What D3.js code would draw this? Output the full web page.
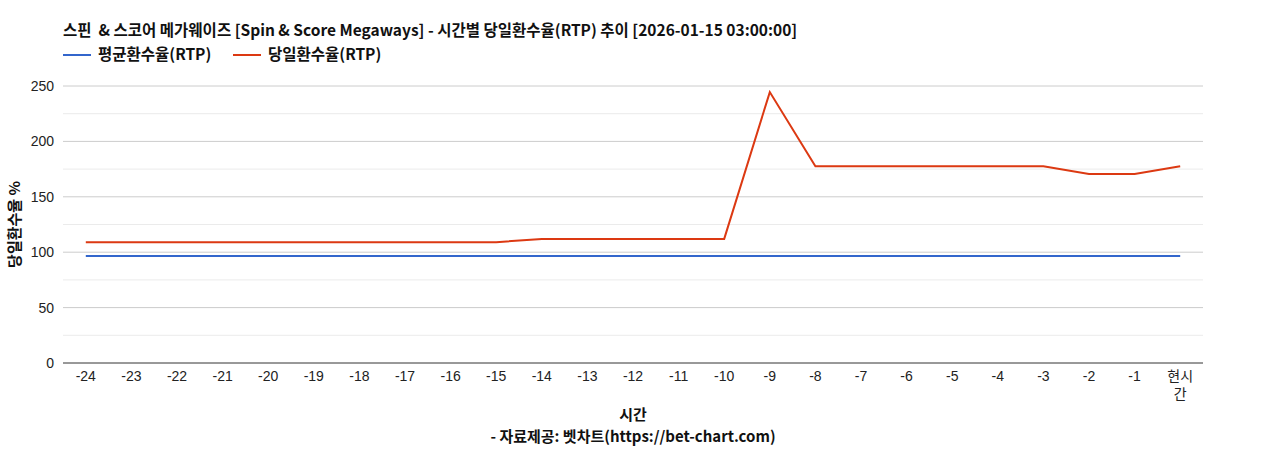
<!DOCTYPE html>
<html><head><meta charset="utf-8">
<script src="https://cdn.jsdelivr.net/npm/d3@7"></script>
<style>body{margin:0;background:#fff;font-family:"Noto Sans CJK KR","Noto Sans",sans-serif;} text{white-space:pre;}</style>
</head><body><svg id="c" width="1268" height="450"></svg>
<script>
var hours = ["-24","-23","-22","-21","-20","-19","-18","-17","-16","-15","-14","-13","-12","-11","-10","-9","-8","-7","-6","-5","-4","-3","-2","-1","현시간"];
var avgRtp = [96.6,96.6,96.6,96.6,96.6,96.6,96.6,96.6,96.6,96.6,96.6,96.6,96.6,96.6,96.6,96.6,96.6,96.6,96.6,96.6,96.6,96.6,96.6,96.6,96.6];
var dayRtp = [109,109,109,109,109,109,109,109,109,109,112,112,112,112,112,244.5,177.5,177.5,177.5,177.5,177.5,177.5,170.5,170.5,177.5];
var yTicks = [0,50,100,150,200,250];
var minorTicks = [25,75,125,175,225];

var svg = d3.select("#c");
var L = 63, R = 1203, T = 86, B = 363;
var tickFont = "'Liberation Sans','Noto Sans CJK KR',sans-serif";
var x = d3.scalePoint().domain(hours).range([L, R]).padding(0.5);
var y = d3.scaleLinear().domain([0, 250]).range([B, T]);

svg.append("g").selectAll("line").data(minorTicks).enter().append("line")
  .attr("x1", L).attr("x2", R).attr("y1", d => y(d)).attr("y2", d => y(d))
  .attr("stroke", "#ebebeb");
svg.append("g").selectAll("line").data(yTicks.slice(1)).enter().append("line")
  .attr("x1", L).attr("x2", R).attr("y1", d => y(d)).attr("y2", d => y(d))
  .attr("stroke", "#cccccc");
svg.append("line").attr("x1", L).attr("x2", R).attr("y1", B).attr("y2", B).attr("stroke", "#333");

svg.append("g").selectAll("text").data(yTicks).enter().append("text")
  .attr("x", L - 9).attr("y", d => y(d) + 5).attr("text-anchor", "end")
  .attr("font-family", tickFont).attr("font-size", 14).attr("fill", "#222").text(d => d);

var xl = svg.append("g").selectAll("text").data(hours).enter().append("text")
  .attr("x", d => x(d)).attr("y", 381).attr("text-anchor", "middle")
  .attr("font-family", tickFont).attr("font-size", 14).attr("fill", "#222");
xl.each(function(d){
  var t = d3.select(this);
  if (d === "현시간") {
    t.append("tspan").attr("x", x(d)).attr("dy", 0).text("현시");
    t.append("tspan").attr("x", x(d)).attr("dy", 18).text("간");
  } else t.text(d);
});

var line = d3.line().x((d, i) => x(hours[i])).y(d => y(d));
svg.append("path").datum(avgRtp).attr("d", line).attr("fill", "none").attr("stroke", "#3366cc").attr("stroke-width", 2);
svg.append("path").datum(dayRtp).attr("d", line).attr("fill", "none").attr("stroke", "#dc3912").attr("stroke-width", 2);

svg.append("text").attr("x", 63).attr("y", 36).attr("font-size", 15.5).attr("font-weight", "bold").attr("fill", "#111")
  .text("스핀  & 스코어 메가웨이즈 [Spin & Score Megaways] - 시간별 당일환수율(RTP) 추이 [2026-01-15 03:00:00]");
var leg = [["평균환수율(RTP)", "#3366cc", 63], ["당일환수율(RTP)", "#dc3912", 233]];
leg.forEach(function(l){
  svg.append("line").attr("x1", l[2]).attr("x2", l[2] + 28).attr("y1", 55).attr("y2", 55).attr("stroke", l[1]).attr("stroke-width", 2);
  svg.append("text").attr("x", l[2] + 35).attr("y", 60).attr("font-size", 15.5).attr("font-weight", "bold").attr("fill", "#111").text(l[0]);
});

svg.append("text").attr("transform", "translate(20," + ((T + B) / 2) + ") rotate(-90)")
  .attr("text-anchor", "middle").attr("font-size", 15).attr("font-weight", "bold").attr("fill", "#111").text("당일환수율 %");
svg.append("text").attr("x", (L + R) / 2).attr("y", 420).attr("text-anchor", "middle")
  .attr("font-size", 15).attr("font-weight", "bold").attr("fill", "#111").text("시간");
svg.append("text").attr("x", (L + R) / 2).attr("y", 442).attr("text-anchor", "middle")
  .attr("font-size", 15).attr("font-weight", "bold").attr("fill", "#111").text("- 자료제공: 벳차트(https://bet-chart.com)");
</script></body></html>
